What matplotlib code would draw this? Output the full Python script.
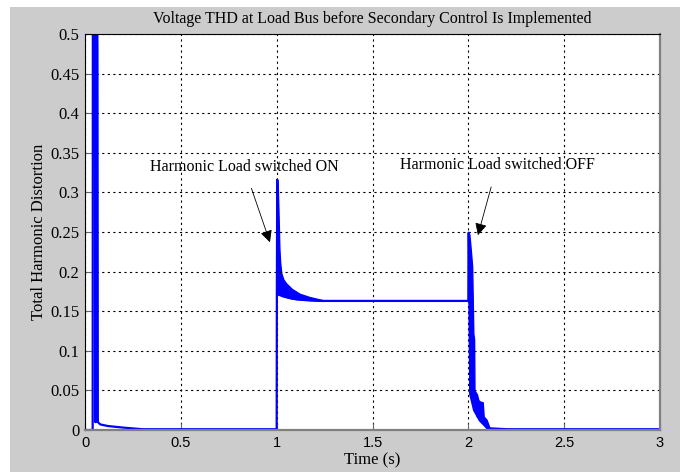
import matplotlib
matplotlib.use("Agg")
from matplotlib import pyplot
from matplotlib.patches import Rectangle

# main THD trace (time in s, THD)
time = [0.0, 0.040, 0.041, 0.052, 0.053, 0.057, 0.058, 0.063, 0.065, 0.067,
        0.08, 0.12, 0.20, 0.30, 1.000, 1.001, 1.003, 1.010,
        1.030, 1.060, 1.100, 1.150, 1.240, 1.500, 2.000, 2.001, 2.003,
        2.010, 2.030, 2.060, 2.100, 2.120, 2.200, 2.500, 3.0]
thd = [0.0, 0.0, 0.56, 0.56, 0.010, 0.010, 0.56, 0.56, 0.48, 0.010,
       0.007, 0.005, 0.003, 0.001, 0.001, 0.172, 0.316, 0.171,
       0.169, 0.167, 0.165, 0.164, 0.163, 0.163, 0.163, 0.249, 0.249,
       0.045, 0.025, 0.012, 0.002, 0.002, 0.001, 0.001, 0.001]

# oscillation envelope after the load is switched ON
on_t = [1.002, 1.006, 1.010, 1.014, 1.018, 1.024, 1.035, 1.050, 1.080, 1.120, 1.170, 1.240]
on_lo = [0.172, 0.172, 0.171, 0.171, 0.171, 0.170, 0.169, 0.168, 0.166, 0.165, 0.164, 0.163]
on_hi = [0.316, 0.305, 0.270, 0.230, 0.212, 0.198, 0.190, 0.185, 0.178, 0.172, 0.168, 0.164]

# oscillation envelope after the load is switched OFF
off_t = [2.002, 2.005, 2.010, 2.017, 2.020, 2.024, 2.026, 2.030, 2.032, 2.045,
         2.052, 2.060, 2.075, 2.080, 2.095, 2.110]
off_lo = [0.249, 0.047, 0.045, 0.040, 0.038, 0.036, 0.034, 0.030, 0.028, 0.017,
          0.016, 0.015, 0.010, 0.008, 0.003, 0.001]
off_hi = [0.249, 0.247, 0.235, 0.215, 0.206, 0.150, 0.122, 0.115, 0.050, 0.045,
          0.038, 0.036, 0.035, 0.017, 0.013, 0.003]

x_ticks = [0, 0.5, 1, 1.5, 2, 2.5, 3]
x_labels = ['0', '0.5', '1', '1.5', '2', '2.5', '3']
y_ticks = [0, 0.05, 0.1, 0.15, 0.2, 0.25, 0.3, 0.35, 0.4, 0.45, 0.5]
y_labels = ['0', '0.05', '0.1', '0.15', '0.2', '0.25', '0.3', '0.35', '0.4', '0.45', '0.5']

serif = 'Liberation Serif'
blue = '#0000ff'

figure = pyplot.figure(figsize=(6.8, 4.72), dpi=100, facecolor='white')
figure.patches.append(Rectangle((10 / 680, 0), 1, 1 - 7 / 472, transform=figure.transFigure,
                                facecolor='#cccccc', edgecolor='none', zorder=-1))
axes = figure.add_axes([85 / 680, 1 - 430 / 472, 575 / 680, 396 / 472])

axes.plot(time, thd, color=blue, linewidth=1.6)
axes.fill_between(on_t, on_lo, on_hi, color=blue, linewidth=1.0)
axes.fill_between(off_t, off_lo, off_hi, color=blue, linewidth=1.0)

axes.set_xlim(0, 3)
axes.set_ylim(0, 0.5)
axes.set_xticks(x_ticks)
axes.set_xticklabels(x_labels, family='Liberation Sans', fontsize=10.5)
axes.set_yticks(y_ticks)
axes.set_yticklabels(y_labels, family=serif, fontsize=12)
axes.tick_params(direction='in', length=5, color='#666666', pad=4)
axes.grid(True, color='black', linestyle=(0, (2, 3)), linewidth=0.8)

for side in ['top', 'left']:
    axes.spines[side].set_color('black')
for side in ['right', 'bottom']:
    axes.spines[side].set_color('#808080')
    axes.spines[side].set_linewidth(1.6)

axes.set_title('Voltage THD at Load Bus before Secondary Control Is Implemented',
               family=serif, fontsize=11.5, pad=8)
axes.set_xlabel('Time (s)', family=serif, fontsize=12, labelpad=2)
axes.set_ylabel('Total Harmonic Distortion', family=serif, fontsize=12, labelpad=2.5)

axes.annotate('Harmonic Load switched ON', xy=(0.965, 0.237), xytext=(0.83, 0.332),
              family=serif, fontsize=11.5, ha='center', va='center',
              arrowprops=dict(arrowstyle='-|>', color='black', lw=0.6,
                              mutation_scale=18, shrinkA=8, shrinkB=0))
axes.annotate('Harmonic Load switched OFF', xy=(2.05, 0.246), xytext=(2.15, 0.334),
              family=serif, fontsize=11.5, ha='center', va='center',
              arrowprops=dict(arrowstyle='-|>', color='black', lw=0.6,
                              mutation_scale=18, shrinkA=8, shrinkB=0))

figure.savefig('out.png', dpi=100, facecolor=figure.get_facecolor())
